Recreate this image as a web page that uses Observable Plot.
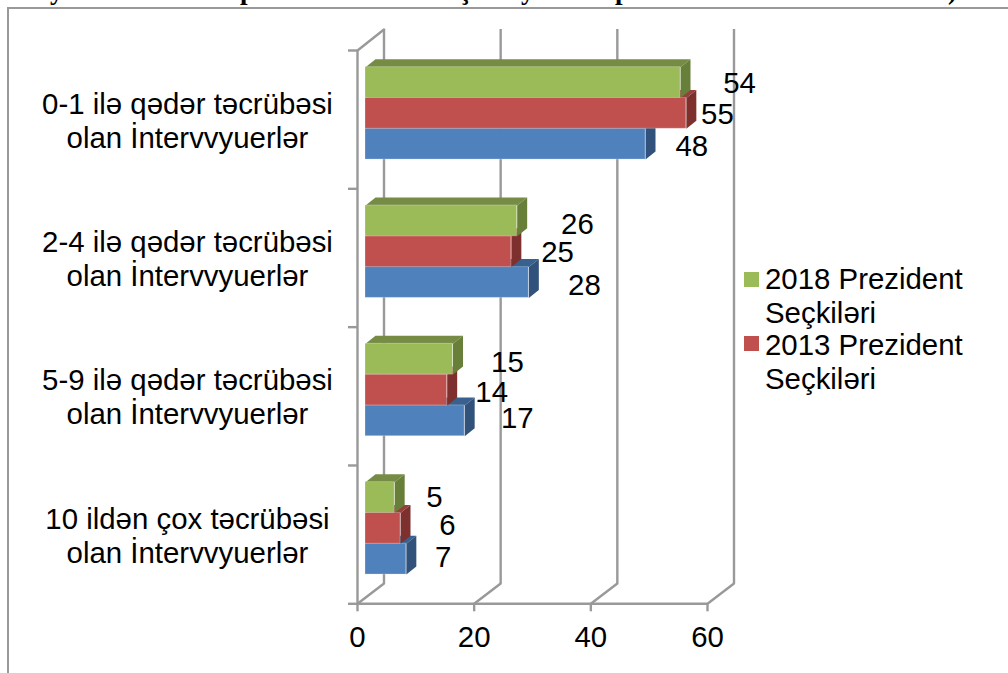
<!DOCTYPE html>
<html>
<head>
<meta charset="utf-8">
<script src="https://cdn.jsdelivr.net/npm/d3@7"></script>
<script src="https://cdn.jsdelivr.net/npm/@observablehq/plot@0.6"></script>
<style>
html,body{margin:0;padding:0;background:#fff;overflow:hidden}
#page{position:relative;width:1008px;height:673px;overflow:hidden;font-family:"Liberation Sans",Arial,sans-serif;color:#000}
#frame{position:absolute;left:7px;top:7px;right:-4px;bottom:-4px;border-left:2px solid #999;border-top:2px solid #999}
#chart{position:absolute;left:0;top:0}
.frag{position:absolute;font:bold 27px "Liberation Serif",serif;line-height:27px;white-space:pre}
.lg{position:absolute;font-size:29.4px;line-height:33.5px;white-space:pre}
.sw{position:absolute;width:15px;height:15px}
</style>
</head>
<body>
<div id="page"><div id="frame"></div><div id="chart"></div></div>
<script>
// Data
const categories = [
  "0-1 ilə qədər təcrübəsi\nolan İntervvyuerlər",
  "2-4 ilə qədər təcrübəsi\nolan İntervvyuerlər",
  "5-9 ilə qədər təcrübəsi\nolan İntervvyuerlər",
  "10 ildən çox təcrübəsi\nolan İntervvyuerlər"
];
const values2018 = [54, 26, 15, 5];
const values2013 = [55, 25, 14, 6];
const valuesThird = [48, 28, 17, 7];
const xTicks = [0, 20, 40, 60];
const legendNames = ["2018 Prezident\nSeçkiləri", "2013 Prezident\nSeçkiləri"];
// Hand-placed data label nudges (x in value units, y in pixels), as in the original
const nudgeX2018 = [11.5, 11.7, 10.7, 8.2];
const nudgeX2013 = [6.7, 9.3, 9.0, 9.4];
const nudgeXThird = [9.3, 10.9, 10.4, 7.7];
const nudgeY2018 = [1.5, 4, 3.5, 0];
const nudgeY2013 = [1.5, 1, 2.5, -3];
const nudgeYThird = [2, 3, -2, -2];

// Layout / styling
const W = 1008, H = 673;
const mL = 357, mR = 301, mT = 50, mB = 69.7;
const unitX = (W - mL - mR) / 60, unitY = (H - mT - mB) / 4;
const barH = 30.8 / unitY;
const depthX = 10 / unitX, depthY = 8 / unitY;
const wallX = 26.5 / unitX, wallY = 20.3 / unitY, wallTop = 4 + 21 / unitY;
const front = {dx: 8, dy: -6.3};
const grey = "#999999";
const lineW = 2.4;
const fontPx = 29.4;

const series = [
  {values: valuesThird, nx: nudgeXThird, ny: nudgeYThird, main: "#4F81BD", top: "#38618f", side: "#31527b"},
  {values: values2013, nx: nudgeX2013, ny: nudgeY2013, main: "#C0504D", top: "#94403d", side: "#7d302e"},
  {values: values2018, nx: nudgeX2018, ny: nudgeY2018, main: "#9BBB59", top: "#768c45", side: "#687f39"}
];

const bars = series.flatMap((s, si) => s.values.map((v, ci) => {
  const yc = 3.5 - ci;
  const y1 = yc + (si - 1.5) * barH;
  return {si, ci, v, y1, y2: y1 + barH, nx: s.nx[ci], ny: s.ny[ci]};
}));
const topFace = b => [[0, b.y2], [b.v, b.y2], [b.v + depthX, b.y2 + depthY], [depthX, b.y2 + depthY]]
  .map(([x, y]) => ({x, y, id: b.ci}));
const sideFace = b => [[b.v, b.y1], [b.v + depthX, b.y1 + depthY], [b.v + depthX, b.y2 + depthY], [b.v, b.y2]]
  .map(([x, y]) => ({x, y, id: b.ci}));

const slants = xTicks.flatMap(t => [{x: t, y: 0, id: t}, {x: t + wallX, y: wallY, id: t}])
  .concat([{x: 0, y: 4, id: "top"}, {x: wallX, y: wallTop, id: "top"}]);

const marks = [
  // back wall
  Plot.ruleX(xTicks, {x: d => d, y1: wallY, y2: wallTop, dx: 26.5, stroke: grey, strokeWidth: lineW}),
  Plot.line(slants, {x: "x", y: "y", z: "id", stroke: grey, strokeWidth: lineW}),
  Plot.ruleX([0], {y1: 0, y2: 4, stroke: grey, strokeWidth: lineW}),
  Plot.ruleY([0], {x1: 0, x2: 60, stroke: grey, strokeWidth: lineW}),
  Plot.axisY({ticks: [0, 1, 2, 3, 4], tickFormat: () => "", tickSize: 9, stroke: grey, strokeWidth: lineW, label: null}),
  Plot.axisX({ticks: xTicks, tickSize: 8, tickPadding: 14, fontSize: fontPx, stroke: grey, strokeWidth: lineW, label: null, fill: "#000"})
];
series.forEach((s, si) => {
  const bs = bars.filter(b => b.si === si);
  marks.push(Plot.line(bs.flatMap(topFace), {x: "x", y: "y", z: "id", fill: s.top, stroke: "none", ...front}));
  marks.push(Plot.line(bs.flatMap(sideFace), {x: "x", y: "y", z: "id", fill: s.side, stroke: "none", ...front}));
  marks.push(Plot.rect(bs, {x1: () => 0, x2: "v", y1: "y1", y2: "y2", fill: s.main, stroke: "#ffffff", strokeOpacity: 0.25, strokeWidth: 1, ...front}));
});
marks.push(Plot.text(bars, {
  x: b => b.v + b.nx,
  y: b => (b.y1 + b.y2) / 2 - b.ny / unitY,
  text: b => String(b.v),
  dy: -6.3, fontSize: fontPx, fill: "#000", textAnchor: "middle"
}));
marks.push(Plot.text(categories, {
  x: () => 0, y: (d, i) => 3.5 - i, text: d => d,
  dx: -170, fontSize: fontPx, lineHeight: 1.16, fill: "#000", textAnchor: "middle"
}));

const chart = Plot.plot({
  width: W, height: H,
  marginLeft: mL, marginRight: mR, marginTop: mT, marginBottom: mB,
  x: {domain: [0, 60], axis: null},
  y: {domain: [0, 4], axis: null},
  style: {fontFamily: '"Liberation Sans",Arial,sans-serif', background: "transparent", overflow: "visible"},
  marks
});
document.getElementById("chart").append(chart);

// Legend (the third series' entry is cut off in the original)
const page = document.getElementById("page");
[[series[2].main, legendNames[0], 272, 262], [series[1].main, legendNames[1], 336, 328]].forEach(([c, t, sy, ty]) => {
  const sw = document.createElement("div"); sw.className = "sw";
  sw.style.cssText = `left:744px;top:${sy}px;background:${c}`;
  const tx = document.createElement("div"); tx.className = "lg";
  tx.style.cssText = `left:765px;top:${ty}px`; tx.textContent = t;
  page.append(sw, tx);
});

// The title line above is cropped by the top edge: only letter bottoms show
[["y", "left:50px"], ["p", "left:240px"], ["ş", "left:460px"], ["y", "left:521px"], ["p", "left:615px"], ["esasında)", "right:51px"]].forEach(([t, pos]) => {
  const f = document.createElement("div"); f.className = "frag";
  f.style.cssText = `${pos};top:-23px`; f.textContent = t;
  page.append(f);
});
</script>
</body>
</html>
